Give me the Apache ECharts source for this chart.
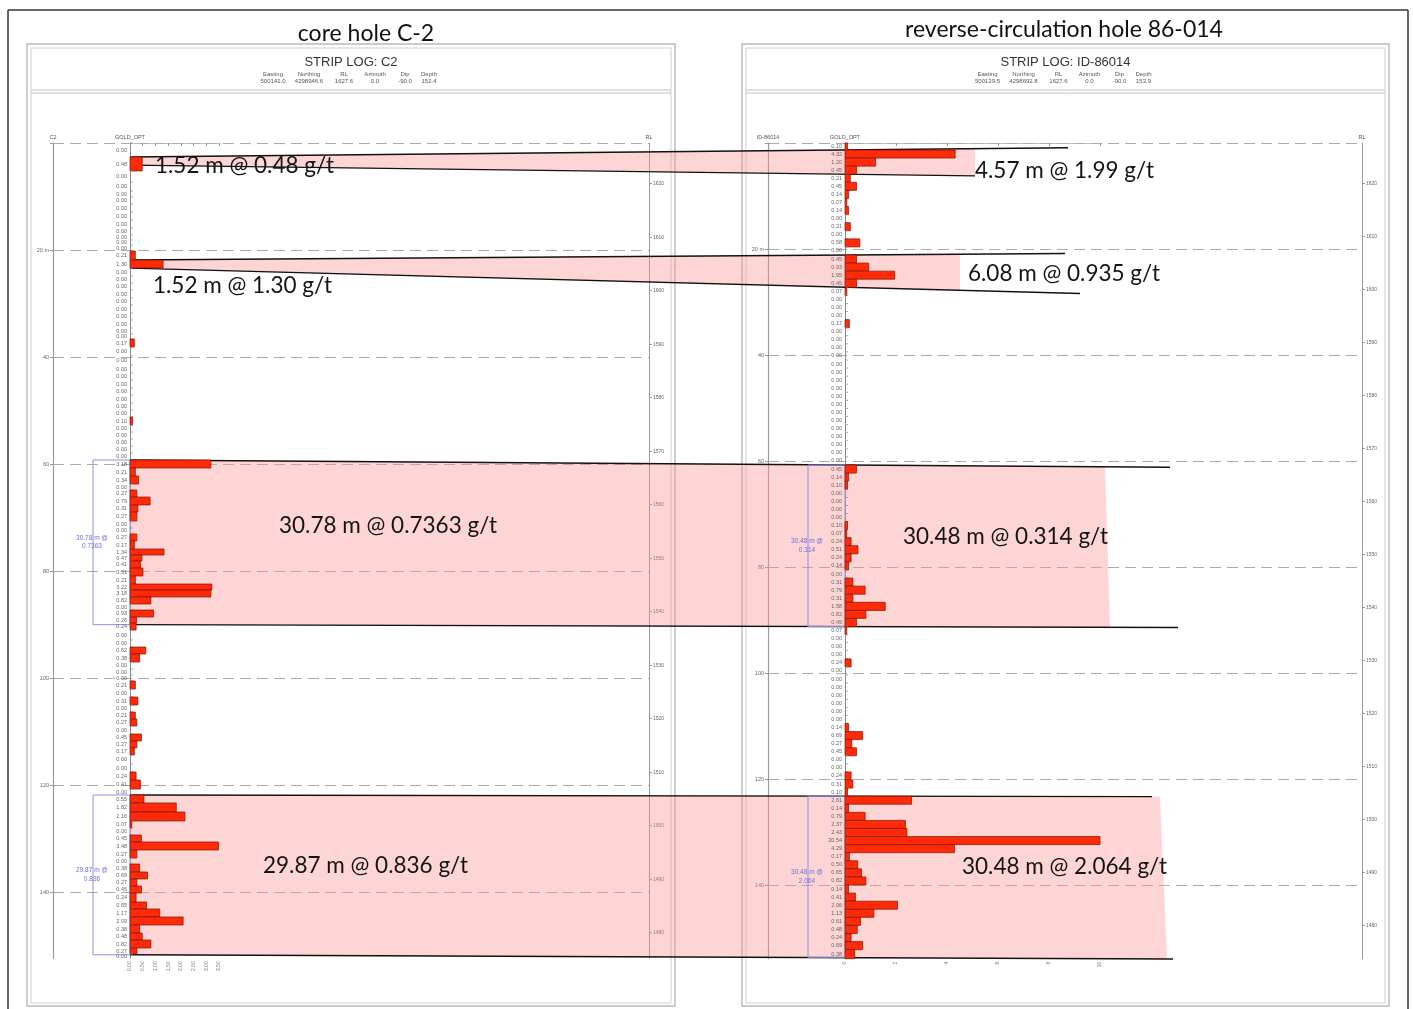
<!DOCTYPE html>
<html>
<head>
<meta charset="utf-8">
<title>Strip logs: core hole C-2 and reverse-circulation hole 86-014</title>
<script src="https://cdn.jsdelivr.net/npm/echarts@6.0.0/dist/echarts.min.js"></script>
<style>
  html, body { margin: 0; padding: 0; background: #ffffff; }
  #chart { width: 1413px; height: 1009px; }
</style>
</head>
<body>
<div id="chart"></div>
<script>
// ---------------- Core hole C-2 ----------------
const c2Title = 'core hole C-2';
const c2LogName = 'STRIP LOG: C2';
const c2HoleId = 'C2';
const collarKeys = ['Easting', 'Northing', 'RL', 'Azimuth', 'Dip', 'Depth'];
const c2CollarValues = ['500142.0', '4298946.6', '1627.6', '0.0', '-90.0', '152.4'];
const c2CollarRl = 1627.6;
const c2Depth = 152.4;
// sample tops (m down hole) and gold assays (opt)
const c2Tops = [
  0, 2.62, 5.23, 7.29, 8.97, 10.09, 11.40, 12.90, 14.39, 15.89,
  17.20, 18.13, 19.07, 20.19, 21.87, 23.36, 24.86, 26.17, 27.48, 28.97,
  30.28, 31.78, 33.08, 34.58, 35.70, 36.64, 38.13, 39.81, 41.50, 42.99,
  44.30, 45.79, 47.10, 48.60, 49.91, 51.21, 52.71, 54.02, 55.33, 56.64,
  57.94, 59.25, 60.75, 62.24, 63.74, 64.86, 66.17, 67.66, 68.97, 70.65,
  71.96, 73.08, 74.39, 75.89, 77.01, 78.13, 79.44, 80.93, 82.43, 83.55,
  84.86, 86.17, 87.29, 88.60, 89.72, 91.03, 92.90, 94.21, 95.51, 97.01,
  98.32, 99.44, 100.56, 102.06, 103.55, 105.05, 106.36, 107.66, 108.97, 110.47,
  111.78, 113.08, 114.39, 116.07, 117.57, 119.07, 120.75, 121.87, 123.36, 125.05,
  126.73, 128.04, 129.35, 130.65, 132.15, 133.64, 134.77, 136.26, 137.57, 138.88,
  140.19, 141.87, 143.18, 144.67, 146.17, 147.66, 148.97, 150.47, 151.59
];
const c2Gold = [
  0.00, 0.48, 0.00, 0.00, 0.00, 0.00, 0.00, 0.00, 0.00, 0.00,
  0.00, 0.00, 0.00, 0.21, 1.30, 0.00, 0.00, 0.00, 0.00, 0.00,
  0.00, 0.00, 0.00, 0.00, 0.00, 0.17, 0.00, 0.00, 0.00, 0.00,
  0.00, 0.00, 0.00, 0.00, 0.00, 0.10, 0.00, 0.00, 0.00, 0.00,
  0.00, 3.18, 0.21, 0.34, 0.00, 0.27, 0.79, 0.31, 0.27, 0.00,
  0.00, 0.27, 0.17, 1.34, 0.47, 0.41, 0.51, 0.21, 3.22, 3.18,
  0.82, 0.00, 0.93, 0.26, 0.24, 0.00, 0.00, 0.62, 0.38, 0.00,
  0.00, 0.00, 0.21, 0.00, 0.31, 0.00, 0.21, 0.27, 0.00, 0.45,
  0.27, 0.17, 0.00, 0.00, 0.24, 0.41, 0.00, 0.55, 1.82, 2.16,
  0.07, 0.00, 0.45, 3.48, 0.27, 0.00, 0.38, 0.69, 0.27, 0.45,
  0.24, 0.65, 1.17, 2.09, 0.38, 0.48, 0.82, 0.27, 0.00
];
// mineralised intercepts: top (m), length (m), grade (g/t)
const c2InterceptTop = [2.62, 21.87, 59.25, 121.87];
const c2InterceptLen = [1.52, 1.52, 30.78, 29.87];
const c2InterceptGrade = ['0.48', '1.30', '0.7363', '0.836'];
const c2Bracketed = [false, false, true, true];

// ---------------- Reverse-circulation hole 86-014 ----------------
const rcTitle = 'reverse-circulation hole 86-014';
const rcLogName = 'STRIP LOG: ID-86014';
const rcHoleId = 'ID-86014';
const rcCollarValues = ['500139.5', '4298692.8', '1627.6', '0.0', '-90.0', '153.9'];
const rcCollarRl = 1627.6;
const rcDepth = 153.9;
// first sample 0-1.32 m, then regular 5 ft (1.524 m) runs
const rcFirstRun = 1.32;
const rcRun = 1.524;
const rcGold = [
  0.10, 4.32, 1.20, 0.45, 0.21, 0.45, 0.14, 0.07, 0.14, 0.00,
  0.21, 0.00, 0.58, 0.00, 0.45, 0.93, 1.95, 0.45, 0.07, 0.00,
  0.00, 0.00, 0.17, 0.00, 0.00, 0.00, 0.00, 0.00, 0.00, 0.00,
  0.00, 0.00, 0.00, 0.00, 0.00, 0.00, 0.00, 0.00, 0.00, 0.00,
  0.45, 0.14, 0.10, 0.00, 0.00, 0.00, 0.00, 0.10, 0.07, 0.24,
  0.51, 0.24, 0.14, 0.00, 0.31, 0.79, 0.31, 1.58, 0.82, 0.45,
  0.07, 0.00, 0.00, 0.00, 0.24, 0.00, 0.00, 0.00, 0.00, 0.00,
  0.00, 0.00, 0.14, 0.69, 0.27, 0.45, 0.00, 0.00, 0.24, 0.31,
  0.10, 2.61, 0.14, 0.79, 2.37, 2.43, 20.54, 4.29, 0.17, 0.50,
  0.65, 0.82, 0.14, 0.41, 2.06, 1.13, 0.61, 0.48, 0.24, 0.69,
  0.38
];
const rcInterceptTop = [1.32, 21.13, 60.76, 123.24];
const rcInterceptLen = [4.57, 6.08, 30.48, 30.48];
const rcInterceptGrade = ['1.99', '0.935', '0.314', '2.064'];
const rcBracketed = [false, false, true, true];

// ---------------- page layout ----------------
const PINK = 'rgba(250,150,150,0.40)';
const BAR_FILL = '#ff2a08';
const BAR_EDGE = '#7d1408';
const FRAME = '#b9b9b9';
const ANNOT_FONT = 'Lato, "Open Sans", sans-serif';
const LOG_FONT = '"Liberation Sans", Arial, sans-serif';

// connector and fill reach for each intercept (pixels)
const bandReach = [
  { fillTop: 975, fillBot: 975, lineTop: 1068, lineBot: 975 },
  { fillTop: 960, fillBot: 960, lineTop: 1065, lineBot: 1080 },
  { fillTop: 1105, fillBot: 1110, lineTop: 1170, lineBot: 1178 },
  { fillTop: 1160, fillBot: 1167, lineTop: 1152, lineBot: 1173 }
];
const c2LabelAt = [[155, 166], [153, 286], [279, 526], [263, 866]];
const rcLabelAt = [[975, 171], [968, 274], [903, 537], [962, 867]];

const chart = echarts.init(document.getElementById('chart'), null, { renderer: 'canvas' });

function sampleRows(tops, gold, total) {
  return gold.map((v, i) => [tops[i], i + 1 < tops.length ? tops[i + 1] : total, v]);
}
const rcTops = rcGold.map((v, i) => (i === 0 ? 0 : rcFirstRun + (i - 1) * rcRun));

function logSeries(xi, yi, rows) {
  return {
    type: 'custom',
    xAxisIndex: xi,
    yAxisIndex: yi,
    z: 5,
    data: rows,
    encode: { x: 2, y: [0, 1] },
    renderItem(params, api) {
      const top = api.value(0), bot = api.value(1), v = api.value(2);
      const a = api.coord([0, top]);
      const b = api.coord([v, bot]);
      const cs = params.coordSys;
      const xMax = cs.x + cs.width;
      const kids = [
        { type: 'line', shape: { x1: a[0], y1: a[1], x2: a[0] + 3, y2: a[1] },
          style: { stroke: '#8a8a8a', lineWidth: 0.7 } },
        { type: 'text', x: a[0] - 3, y: (a[1] + b[1]) / 2,
          style: { text: v.toFixed(2), fontSize: 5.5, fontFamily: LOG_FONT, fill: '#666',
                   align: 'right', verticalAlign: 'middle' } }
      ];
      if (v > 0) {
        const w = Math.max(1.5, Math.min(b[0], xMax) - a[0]);
        kids.push({ type: 'rect', shape: { x: a[0], y: a[1], width: w, height: b[1] - a[1] },
          style: { fill: BAR_FILL, stroke: BAR_EDGE, lineWidth: 0.7 } });
      }
      return { type: 'group', children: kids };
    }
  };
}

function barAxisX(gi, max, step, dec) {
  return {
    gridIndex: gi, type: 'value', min: 0, max: max, interval: step, position: 'bottom',
    axisLine: { show: true, lineStyle: { color: '#b0b0b0', width: 0.8 } },
    axisTick: { show: true, length: 3, lineStyle: { color: '#999' } },
    axisLabel: { rotate: 90, fontSize: 5, color: '#777', margin: 3, fontFamily: LOG_FONT,
                 formatter: v => v.toFixed(dec) },
    splitLine: { show: false }
  };
}
function goldAxisY(gi, depth) {
  return {
    gridIndex: gi, type: 'value', inverse: true, min: 0, max: depth,
    axisLine: { show: true, lineStyle: { color: '#8a8a8a', width: 1 } },
    axisTick: { show: false }, axisLabel: { show: false }, splitLine: { show: false },
    name: 'GOLD_OPT', nameLocation: 'start', nameGap: 3,
    nameTextStyle: { fontSize: 5.5, color: '#555', fontFamily: LOG_FONT }
  };
}
function depthAxisY(gi, depth, holeId) {
  return {
    gridIndex: gi, type: 'value', inverse: true, min: 0, max: depth, interval: 20, position: 'left',
    axisLine: { show: true, lineStyle: { color: '#9a9a9a', width: 1.2 } },
    axisTick: { show: true, length: 3, lineStyle: { color: '#999' } },
    axisLabel: { fontSize: 5.5, color: '#666', margin: 4, fontFamily: LOG_FONT, showMaxLabel: false,
                 formatter: v => (v === 0 ? '' : v === 20 ? '20 m' : String(v)) },
    splitLine: { show: true, showMaxLine: false,
                 lineStyle: { color: '#ababab', width: 1.2, type: [11, 6] } },
    name: holeId, nameLocation: 'start', nameGap: 3,
    nameTextStyle: { fontSize: 5.5, color: '#555', fontFamily: LOG_FONT }
  };
}
function rlAxisY(gi, collar, depth) {
  return {
    gridIndex: gi, type: 'value', position: 'right', min: +(collar - depth).toFixed(1), max: collar,
    minInterval: 10, maxInterval: 10,
    axisLine: { show: true, lineStyle: { color: '#9a9a9a', width: 1 } },
    axisTick: { show: true, length: 3, lineStyle: { color: '#999' } },
    axisLabel: { fontSize: 5, color: '#666', margin: 4, fontFamily: LOG_FONT,
                 showMinLabel: false, showMaxLabel: false,
                 formatter: v => (v % 10 === 0 ? String(v) : '') },
    splitLine: { show: false },
    name: 'RL', nameLocation: 'end', nameGap: 3,
    nameTextStyle: { fontSize: 5.5, color: '#555', fontFamily: LOG_FONT }
  };
}

// panel frames, titles and collar headers
function panelGraphics(x, w, title, titleX, titleY, logName, collarVals) {
  const cx = x + w / 2;
  const g = [
    { type: 'rect', z: 0, shape: { x: x, y: 44, width: w, height: 962 },
      style: { fill: null, stroke: FRAME, lineWidth: 1.4 } },
    { type: 'rect', z: 0, shape: { x: x + 4, y: 48, width: w - 8, height: 955 },
      style: { fill: null, stroke: '#cfcfcf', lineWidth: 1 } },
    { type: 'line', z: 0, shape: { x1: x + 4, y1: 90, x2: x + w - 4, y2: 90 },
      style: { stroke: '#c4c4c4', lineWidth: 1 } },
    { type: 'line', z: 0, shape: { x1: x + 4, y1: 93, x2: x + w - 4, y2: 93 },
      style: { stroke: '#c4c4c4', lineWidth: 1 } },
    { type: 'text', z: 10, x: titleX, y: titleY,
      style: { text: title, fontSize: 23, fontFamily: ANNOT_FONT, fill: '#111',
               align: 'center', verticalAlign: 'middle' } },
    { type: 'text', z: 10, x: cx, y: 62,
      style: { text: logName, fontSize: 13, fontFamily: LOG_FONT, fill: '#333',
               align: 'center', verticalAlign: 'middle' } }
  ];
  const offs = [-78, -42, -7, 24, 54, 78];
  collarKeys.forEach((k, i) => {
    g.push({ type: 'text', z: 10, x: cx + offs[i], y: 74,
      style: { text: k, fontSize: 6, fontFamily: LOG_FONT, fill: '#555', align: 'center', verticalAlign: 'middle' } });
    g.push({ type: 'text', z: 10, x: cx + offs[i], y: 81.5,
      style: { text: collarVals[i], fontSize: 6, fontFamily: LOG_FONT, fill: '#555', align: 'center', verticalAlign: 'middle' } });
  });
  return g;
}

const staticGraphics = [
  { type: 'line', z: 0, shape: { x1: 8, y1: 10, x2: 1408, y2: 10 }, style: { stroke: '#333', lineWidth: 1.5 } },
  { type: 'line', z: 0, shape: { x1: 8, y1: 10, x2: 8, y2: 1009 }, style: { stroke: '#333', lineWidth: 1.5 } },
  { type: 'line', z: 0, shape: { x1: 1408, y1: 10, x2: 1408, y2: 1009 }, style: { stroke: '#333', lineWidth: 1.5 } }
].concat(
  panelGraphics(27, 648, c2Title, 366, 34, c2LogName, c2CollarValues),
  panelGraphics(742, 647, rcTitle, 1064, 30, rcLogName, rcCollarValues)
);

const option = {
  animation: false,
  backgroundColor: '#ffffff',
  grid: [
    { left: 130, top: 143, width: 89, height: c2Depth * 5.35 },
    { left: 53, top: 143, width: 596, height: c2Depth * 5.35 },
    { left: 845, top: 143, width: 255, height: rcDepth * 5.3 },
    { left: 768, top: 143, width: 594, height: rcDepth * 5.3 }
  ],
  xAxis: [
    barAxisX(0, 3.5, 0.5, 2),
    { gridIndex: 1, type: 'value', show: false, min: 0, max: 1 },
    barAxisX(2, 10, 2, 0),
    { gridIndex: 3, type: 'value', show: false, min: 0, max: 1 }
  ],
  yAxis: [
    goldAxisY(0, c2Depth),
    depthAxisY(1, c2Depth, c2HoleId),
    rlAxisY(1, c2CollarRl, c2Depth),
    goldAxisY(2, rcDepth),
    depthAxisY(3, rcDepth, rcHoleId),
    rlAxisY(3, rcCollarRl, rcDepth)
  ],
  series: [
    logSeries(0, 0, sampleRows(c2Tops, c2Gold, c2Depth)),
    logSeries(2, 3, sampleRows(rcTops, rcGold, rcDepth))
  ],
  graphic: staticGraphics
};
chart.setOption(option);

// intercept correlation bands, drawn through both depth scales
function interceptGraphics() {
  const out = [];
  const xL = chart.convertToPixel({ xAxisIndex: 0 }, 0);
  const xR = chart.convertToPixel({ xAxisIndex: 2 }, 0);
  const yL = d => chart.convertToPixel({ yAxisIndex: 0 }, d);
  const yR = d => chart.convertToPixel({ yAxisIndex: 3 }, d);
  for (let i = 0; i < c2InterceptTop.length; i++) {
    const lt = yL(c2InterceptTop[i]);
    const lb = yL(c2InterceptTop[i] + c2InterceptLen[i]);
    const rt = yR(rcInterceptTop[i]);
    const rb = yR(rcInterceptTop[i] + rcInterceptLen[i]);
    const topAt = x => lt + (rt - lt) * (x - xL) / (xR - xL);
    const botAt = x => lb + (rb - lb) * (x - xL) / (xR - xL);
    const r = bandReach[i];
    out.push({ type: 'polygon', z: 1,
      shape: { points: [[xL, lt], [r.fillTop, topAt(r.fillTop)], [r.fillBot, botAt(r.fillBot)], [xL, lb]] },
      style: { fill: PINK } });
    out.push({ type: 'line', z: 3, shape: { x1: xL, y1: lt, x2: r.lineTop, y2: topAt(r.lineTop) },
      style: { stroke: '#111', lineWidth: 1.4 } });
    out.push({ type: 'line', z: 3, shape: { x1: xL, y1: lb, x2: r.lineBot, y2: botAt(r.lineBot) },
      style: { stroke: '#111', lineWidth: 1.4 } });

    const c2Text = c2InterceptLen[i].toFixed(2) + ' m @ ' + c2InterceptGrade[i] + ' g/t';
    const rcText = rcInterceptLen[i].toFixed(2) + ' m @ ' + rcInterceptGrade[i] + ' g/t';
    out.push({ type: 'text', z: 10, x: c2LabelAt[i][0], y: c2LabelAt[i][1],
      style: { text: c2Text, fontSize: 22.5, fontFamily: ANNOT_FONT, fill: '#141414', verticalAlign: 'middle' } });
    out.push({ type: 'text', z: 10, x: rcLabelAt[i][0], y: rcLabelAt[i][1],
      style: { text: rcText, fontSize: 22.5, fontFamily: ANNOT_FONT, fill: '#141414', verticalAlign: 'middle' } });

    // composite brackets beside the assay column
    [[c2Bracketed[i], xL, lt, lb, c2InterceptLen[i], c2InterceptGrade[i]],
     [rcBracketed[i], xR, rt, rb, rcInterceptLen[i], rcInterceptGrade[i]]].forEach(([on, ax, t, b, len, gr]) => {
      if (!on) return;
      out.push({ type: 'rect', z: 4, shape: { x: ax - 37, y: t, width: 37, height: b - t },
        style: { fill: null, stroke: '#8f8fe6', lineWidth: 1 } });
      out.push({ type: 'text', z: 10, x: ax - 38, y: (t + b) / 2,
        style: { text: len.toFixed(2) + ' m @\n' + gr, fontSize: 6.5, lineHeight: 8.5, fontFamily: LOG_FONT,
                 fill: '#6c6cdc', align: 'center', verticalAlign: 'middle' } });
    });
  }
  return out;
}

chart.setOption({ graphic: staticGraphics.concat(interceptGraphics()) });
</script>
</body>
</html>
